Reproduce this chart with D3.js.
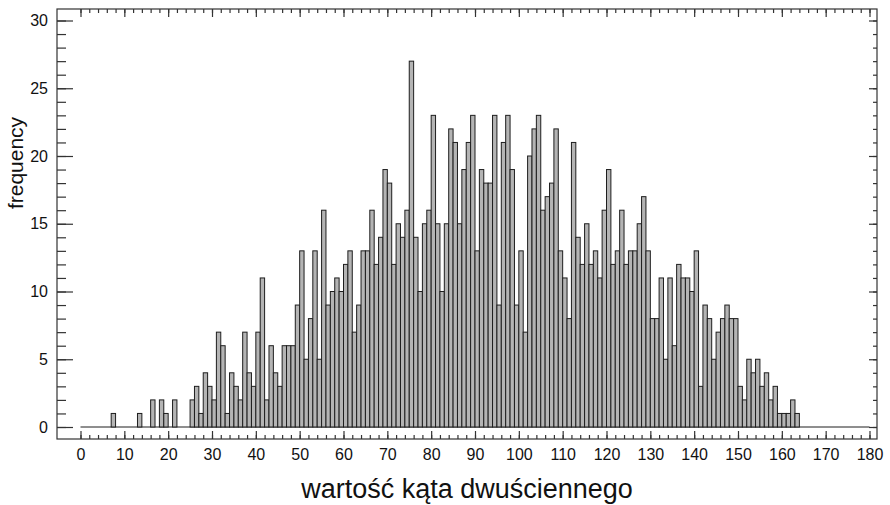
<!DOCTYPE html>
<html>
<head>
<meta charset="utf-8">
<title>wartość kąta dwuściennego</title>
<script src="https://d3js.org/d3.v7.min.js"></script>
<style>
  body { margin: 0; background: #fff; }
  text { font-family: "Liberation Sans", Arial, sans-serif; fill: #111; }
</style>
</head>
<body>
<svg id="chart" width="890" height="505"></svg>
<script>
  /* histogram: one bin per degree, bin k covers [k, k+1) */
  var binStarts = d3.range(0, 180);
  var counts = [
    0, 0, 0, 0, 0, 0, 0, 1, 0, 0,        // 0-9
    0, 0, 0, 1, 0, 0, 2, 0, 2, 1,        // 10-19
    0, 2, 0, 0, 0, 2, 3, 1, 4, 3,        // 20-29
    2, 7, 6, 1, 4, 3, 2, 7, 4, 3,        // 30-39
    7, 11, 2, 6, 4, 3, 6, 6, 6, 9,       // 40-49
    13, 5, 8, 13, 5, 16, 9, 10, 11, 10,  // 50-59
    12, 13, 7, 9, 13, 13, 16, 12, 14, 19,// 60-69
    18, 12, 15, 14, 16, 27, 14, 10, 15, 16, // 70-79
    23, 15, 10, 15, 22, 21, 15, 19, 21, 23, // 80-89
    13, 19, 18, 18, 23, 9, 21, 23, 19, 9,   // 90-99
    13, 7, 20, 22, 23, 16, 17, 18, 22, 13,  // 100-109
    11, 8, 21, 14, 12, 15, 12, 13, 11, 16,  // 110-119
    19, 12, 13, 16, 12, 13, 13, 15, 17, 13, // 120-129
    8, 8, 11, 5, 11, 6, 12, 11, 11, 10,     // 130-139
    13, 3, 9, 8, 5, 7, 8, 9, 8, 8,          // 140-149
    3, 2, 5, 4, 5, 3, 4, 2, 3, 1,           // 150-159
    1, 1, 2, 1, 0, 0, 0, 0, 0, 0,           // 160-169
    0, 0, 0, 0, 0, 0, 0, 0, 0, 0            // 170-179
  ];
  var xTicks = d3.range(0, 181, 10);
  var yTicks = [0, 5, 10, 15, 20, 25, 30];
  var xTitle = "wartość kąta dwuściennego";
  var yTitle = "frequency";

  var bins = binStarts.map(function (k, i) { return { x0: k, x1: k + 1, n: counts[i] }; });

  var svg = d3.select("#chart");
  var frame = { left: 57, right: 877, top: 9, bottom: 439 };

  var x = d3.scaleLinear().domain([0, 180]).range([80.5, 869.5]);
  var y = d3.scaleLinear().domain([0, 30]).range([427, 20.5]);

  /* empty bins still show as a line along zero */
  svg.append("line")
    .attr("x1", x(0)).attr("x2", x(180))
    .attr("y1", y(0)).attr("y2", y(0))
    .attr("stroke", "#1e1e1e").attr("stroke-width", 1);

  /* bars */
  svg.append("g")
    .selectAll("rect")
    .data(bins.filter(function (d) { return d.n > 0; }))
    .join("rect")
    .attr("x", function (d) { return x(d.x0); })
    .attr("y", function (d) { return y(d.n); })
    .attr("width", function (d) { return x(d.x1) - x(d.x0); })
    .attr("height", function (d) { return y(0) - y(d.n); })
    .attr("fill", "#b4b4b4")
    .attr("stroke", "#1e1e1e")
    .attr("stroke-width", 1);

  /* frame */
  svg.append("rect")
    .attr("x", frame.left).attr("y", frame.top)
    .attr("width", frame.right - frame.left)
    .attr("height", frame.bottom - frame.top)
    .attr("fill", "none").attr("stroke", "#333").attr("stroke-width", 1.2);

  function styleAxis(g) {
    g.select(".domain").remove();
    g.selectAll("line").attr("stroke", "#333").attr("stroke-width", 1.2);
    g.selectAll("text").attr("font-size", 16).attr("fill", "#111")
      .style("font-family", "'Liberation Sans', Arial, sans-serif");
  }

  /* left axis: labels + inward ticks */
  svg.append("g").attr("transform", "translate(" + frame.left + ",0)")
    .call(d3.axisLeft(y).tickValues(yTicks).tickSize(-16).tickPadding(9))
    .call(styleAxis);
  svg.append("g").attr("transform", "translate(" + frame.left + ",0)")
    .call(d3.axisLeft(y).tickValues(d3.range(0, 31)).tickSize(-9).tickFormat(""))
    .call(styleAxis);

  /* right axis: ticks only */
  svg.append("g").attr("transform", "translate(" + frame.right + ",0)")
    .call(d3.axisRight(y).tickValues(yTicks).tickSize(-8).tickFormat(""))
    .call(styleAxis);
  svg.append("g").attr("transform", "translate(" + frame.right + ",0)")
    .call(d3.axisRight(y).tickValues(d3.range(0, 31)).tickSize(-4).tickFormat(""))
    .call(styleAxis);

  /* bottom axis */
  svg.append("g").attr("transform", "translate(0," + frame.bottom + ")")
    .call(d3.axisBottom(x).tickValues(xTicks).tickSize(-8).tickPadding(10))
    .call(styleAxis);
  svg.append("g").attr("transform", "translate(0," + frame.bottom + ")")
    .call(d3.axisBottom(x).tickValues(d3.range(0, 181, 2)).tickSize(-4).tickFormat(""))
    .call(styleAxis);

  /* top axis */
  svg.append("g").attr("transform", "translate(0," + frame.top + ")")
    .call(d3.axisTop(x).tickValues(xTicks).tickSize(-8).tickFormat(""))
    .call(styleAxis);
  svg.append("g").attr("transform", "translate(0," + frame.top + ")")
    .call(d3.axisTop(x).tickValues(d3.range(0, 181, 2)).tickSize(-4).tickFormat(""))
    .call(styleAxis);

  /* titles */
  svg.append("text")
    .attr("x", 467).attr("y", 498)
    .attr("text-anchor", "middle")
    .attr("font-size", 27)
    .text(xTitle);

  svg.append("text")
    .attr("transform", "translate(23,163) rotate(-90)")
    .attr("text-anchor", "middle")
    .attr("font-size", 21)
    .text(yTitle);
</script>
</body>
</html>
